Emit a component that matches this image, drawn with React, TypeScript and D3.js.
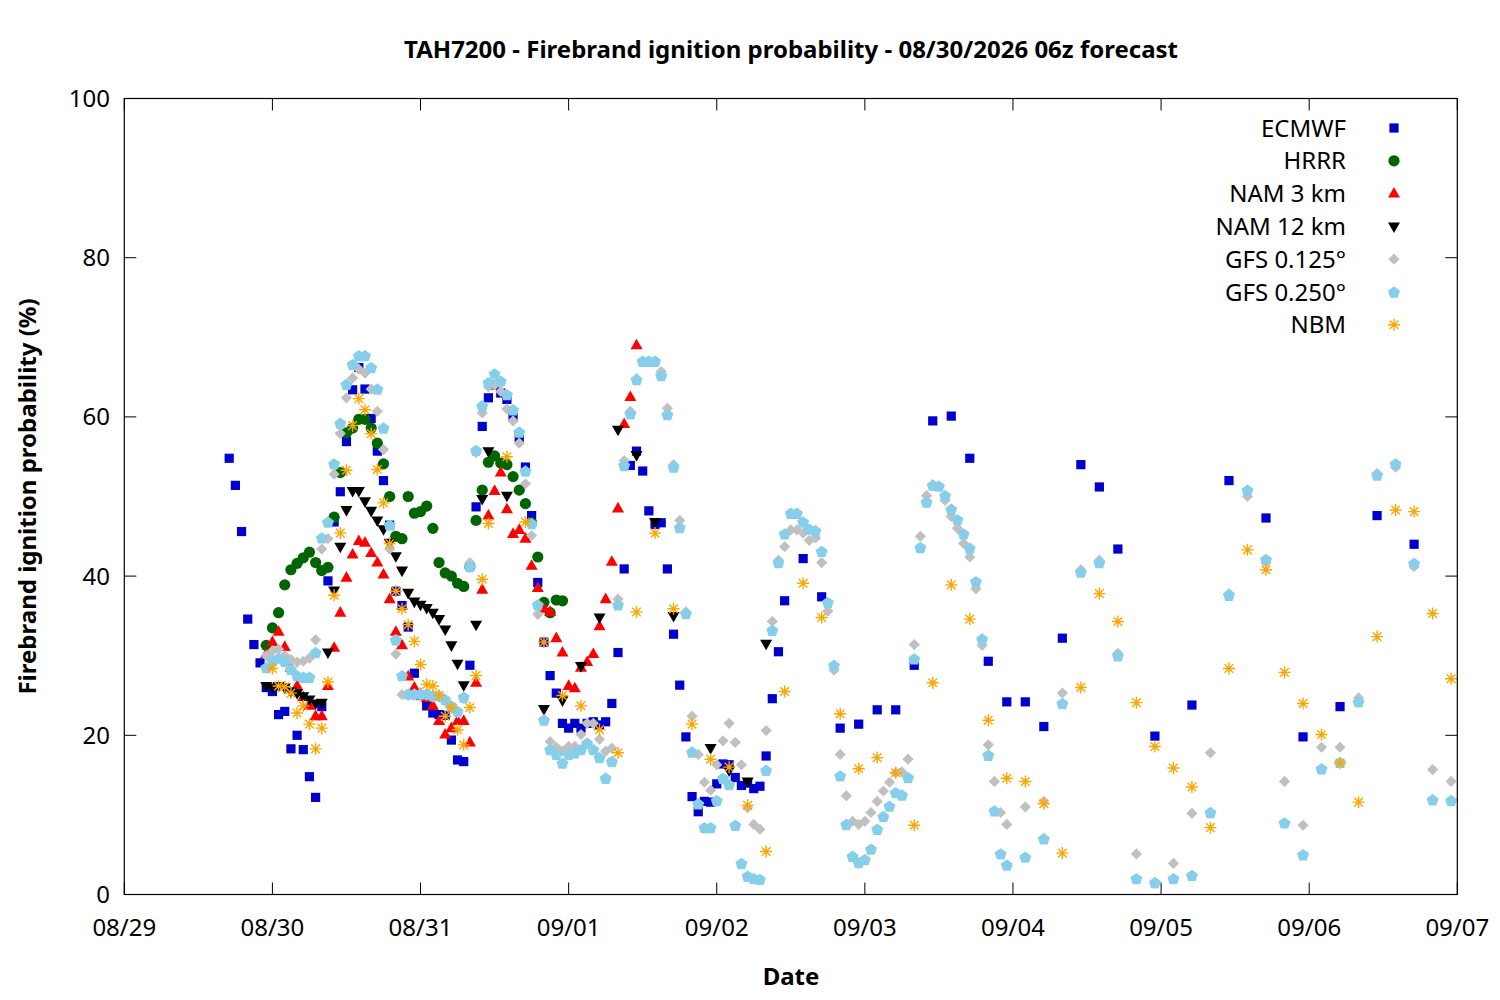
import React from "react";
import * as d3 from "d3";

// ---------- texts ----------
const TITLE = "TAH7200 - Firebrand ignition probability - 08/30/2026 06z forecast";
const X_LABEL = "Date";
const Y_LABEL = "Firebrand ignition probability (%)";
const Y_TICKS = [0, 20, 40, 60, 80, 100];
const X_START = Date.UTC(2026, 7, 29); // 08/29 00z
const X_END = Date.UTC(2026, 8, 7); // 09/07 00z

// ---------- data (hours since 08/29 00z, probability %) ----------
const ecmwfHours = [...d3.range(17, 108), ...d3.range(110, 162, 3), ...d3.range(167, 210, 6)];
const ecmwfValues = [
  54.8, 51.4, 45.6, 34.6, 31.4, 29.1, 26.0, 25.5, 22.6, 23.0, 18.3, 20.0, 18.2, 14.8, 12.2, 23.6,
  39.4, 46.8, 50.6, 56.9, 63.4, 66.2, 63.5, 59.8, 55.7, 52.0, 46.4, 38.1, 36.3, 33.6, 27.8, 25.0,
  23.7, 22.8, 22.6, 22.5, 19.4, 16.9, 16.7, 28.8, 48.7, 58.8, 62.4, 64.0, 63.0, 62.2, 60.0, 57.4,
  53.7, 47.6, 39.2, 31.7, 27.5, 25.3, 21.5, 20.9, 21.5, 20.9, 21.5, 21.7, 21.3, 21.7, 24.0, 30.4,
  40.9, 53.9, 55.7, 53.2, 48.2, 46.5, 46.7, 40.9, 32.7, 26.3, 19.8, 12.3, 10.4, 11.7, 11.6, 13.9,
  16.4, 16.3, 14.7, 13.7, 14.0, 13.3, 13.6, 17.4, 24.6, 30.5, 36.9,
  42.2, 37.4, 20.9, 21.4, 23.2, 23.2, 28.8, 59.5, 60.1, 54.8, 29.3, 24.2, 24.2, 21.1, 32.2, 54.0,
  51.2, 43.4,
  19.9, 23.8, 52.0, 47.3, 19.8, 23.6, 47.6, 44.0,
];

const hrrrHours = d3.range(23, 72);
const hrrrValues = [
  31.3, 33.5, 35.4, 38.9, 40.8, 41.6, 42.3, 43.0, 41.7, 40.7,
  41.1, 47.4, 53.0, 58.0, 58.6, 59.7, 59.7, 58.6, 56.7, 54.1,
  50.0, 45.0, 44.7, 50.0, 47.9, 48.1, 48.8, 46.0, 41.7, 40.4,
  40.0, 39.1, 38.7, 41.2, 47.0, 50.8, 54.3, 55.1, 54.2, 54.0,
  52.5, 50.8, 49.1, 46.7, 42.4, 36.7, 35.4, 37.0, 36.9,
];

const nam3Hours = d3.range(23, 84);
const nam3Values = [
  30.2, 31.7, 33.0, 31.1, 28.5, 26.2, 24.8, 23.7, 22.4, 22.4,
  26.2, 31.0, 35.4, 39.8, 42.7, 44.4, 44.2, 42.9, 41.7, 40.2,
  37.1, 33.0, 31.3, 27.4, 26.0, 25.2, 24.7, 23.7, 21.8, 20.1,
  20.9, 21.8, 21.8, 19.1, 26.6, 38.3, 47.6, 50.7, 53.0, 48.4,
  45.3, 45.8, 44.7, 41.3, 38.5, 35.9, 35.5, 32.2, 30.4, 26.2,
  25.9, 28.5, 29.2, 30.2, 33.7, 37.1, 41.8, 48.5, 59.1, 62.5, 69.0,
];

const nam12Hours = [...d3.range(23, 56), 57, 58, 59, 62, 68, 71, 74, 77, 80, 83, 86, 89, 95, 98, 101, 104];
const nam12Values = [
  26.2, 26.0, 26.2, 26.0, 25.5, 25.3, 24.9, 24.5, 24.0, 24.1,
  30.4, 38.2, 43.7, 48.3, 50.7, 50.7, 49.4, 48.2, 47.0, 45.9,
  44.2, 42.5, 40.7, 37.9, 36.8, 36.4, 36.0, 35.4, 34.6, 33.3,
  31.3, 29.0, 26.3, 33.9, 49.7, 55.7,
  50.1, 23.3, 24.4, 28.7, 34.8, 58.4, 55.2, 46.8, 35.0, 18.4, 15.6, 14.2, 31.5,
];

const gfsHours = [...d3.range(23, 144), ...d3.range(146, 216, 3)];
const gfs125Values = [
  30.0, 30.6, 30.8, 30.0, 29.5, 29.2, 29.3, 29.7, 32.0, 43.4,
  44.7, 52.8, 57.9, 62.4, 64.9, 66.0, 65.5, 63.5, 60.7, 55.9,
  43.4, 30.2, 25.1, 25.0, 25.0, 25.0, 25.0, 24.8, 24.8, 24.3,
  23.5, 22.8, 24.6, 41.7, 55.5, 60.5, 63.8, 64.0, 63.2, 61.0,
  59.5, 56.7, 51.6, 45.1, 35.2, 22.0, 19.2, 18.5, 18.0, 18.6,
  18.6, 20.1, 21.5, 21.5, 19.5, 18.0, 18.4, 37.1, 54.5, 60.7,
  64.8, 67.0, 67.0, 67.0, 65.7, 61.1, 54.0, 47.0, 35.5, 22.4,
  17.6, 14.1, 13.1, 16.3, 19.3, 21.5, 19.1, 16.3, 10.9, 8.8,
  8.2, 20.6, 34.3, 42.0, 43.7, 45.8, 45.8, 45.4, 44.5, 44.8,
  41.7, 35.6, 28.2, 17.6, 12.4, 9.2, 8.8, 9.2, 10.3, 11.7,
  13.0, 14.1, 15.3, 15.4, 17.0, 31.4, 45.0, 50.1, 51.5, 51.3,
  49.5, 47.5, 46.0, 44.1, 42.4, 38.4, 31.3, 18.8, 14.2, 10.3, 8.8,
  11.0, 11.7, 25.3, 40.8, 42.0, 30.3, 5.1, 1.4, 3.9, 10.2, 17.8, 37.8,
  50.0, 41.7, 14.2, 8.7, 18.5, 18.5, 24.7, 52.9, 53.7, 41.2, 15.7, 14.2,
];
const gfs250Values = [
  28.5, 29.4, 29.7, 29.3, 28.3, 27.5, 27.3, 27.3, 30.4, 44.8,
  46.8, 54.1, 59.2, 64.1, 66.6, 67.7, 67.7, 66.2, 63.5, 58.6,
  46.4, 32.0, 27.5, 25.2, 25.2, 25.2, 25.2, 25.0, 25.0, 24.5,
  23.7, 23.0, 24.8, 41.2, 55.8, 61.4, 64.3, 65.4, 64.5, 62.8,
  60.9, 58.1, 53.2, 46.6, 36.4, 21.9, 18.2, 17.6, 16.5, 17.6,
  17.8, 18.2, 19.0, 18.2, 17.2, 14.6, 16.7, 36.4, 53.9, 60.4,
  64.7, 67.0, 67.0, 67.0, 65.2, 60.3, 53.7, 46.1, 35.3, 17.9,
  11.4, 8.4, 8.4, 11.8, 14.6, 13.8, 8.7, 3.9, 2.3, 2.0,
  1.9, 15.6, 33.2, 41.7, 45.3, 47.9, 47.9, 46.8, 45.9, 45.7,
  43.1, 36.7, 28.8, 14.9, 8.8, 4.8, 4.0, 4.4, 5.7, 8.2,
  9.8, 11.1, 12.8, 12.5, 14.7, 29.6, 43.6, 49.3, 51.4, 51.3,
  50.1, 48.4, 47.1, 45.3, 43.5, 39.3, 32.1, 17.5, 10.5, 5.1, 3.7,
  4.7, 7.0, 24.0, 40.5, 41.7, 30.0, 2.0, 1.5, 2.0, 2.4, 10.3, 37.6,
  50.8, 42.1, 9.0, 5.0, 15.8, 16.6, 24.2, 52.7, 54.1, 41.6, 11.9, 11.8,
];

const nbmHours = [...d3.range(24, 60), ...d3.range(62, 216, 3)];
const nbmValues = [
  28.4, 26.2, 26.1, 25.3, 22.8, 23.7, 21.4, 18.3, 20.9, 26.7,
  37.6, 45.4, 53.3, 58.9, 62.3, 60.9, 57.9, 53.4, 49.2, 44.1,
  38.1, 35.9, 33.9, 31.8, 28.9, 26.4, 26.2, 25.0, 22.4, 23.5,
  20.7, 18.8, 23.5, 27.5, 39.6, 46.6,
  55.0, 46.8, 31.7, 25.0, 23.7, 20.7, 17.8, 35.5, 45.4, 35.9,
  21.4, 17.0, 16.0, 11.2, 5.4, 25.5, 39.1, 34.8, 22.7, 15.8,
  17.2, 15.3, 8.7, 26.6, 38.9, 34.6, 21.9, 14.6, 14.2, 11.4,
  5.2, 26.0, 37.8, 34.3, 24.1, 18.6, 15.9, 13.5, 8.4, 28.4,
  43.3, 40.8, 27.9, 24.0, 20.1, 16.5, 11.6, 32.4, 48.3, 48.1,
  35.3, 27.1,
];

const SERIES_NAMES = ["ECMWF", "HRRR", "NAM 3 km", "NAM 12 km", "GFS 0.125°", "GFS 0.250°", "NBM"];

type Shape = "square" | "circle" | "up" | "down" | "diamond" | "pentagon" | "star";
const series: { name: string; hours: number[]; values: number[]; color: string; shape: Shape }[] = [
  { name: SERIES_NAMES[0], hours: ecmwfHours, values: ecmwfValues, color: "#0000cd", shape: "square" },
  { name: SERIES_NAMES[1], hours: hrrrHours, values: hrrrValues, color: "#006400", shape: "circle" },
  { name: SERIES_NAMES[2], hours: nam3Hours, values: nam3Values, color: "#ff0000", shape: "up" },
  { name: SERIES_NAMES[3], hours: nam12Hours, values: nam12Values, color: "#000000", shape: "down" },
  { name: SERIES_NAMES[4], hours: gfsHours, values: gfs125Values, color: "#c0c0c0", shape: "diamond" },
  { name: SERIES_NAMES[5], hours: gfsHours, values: gfs250Values, color: "#87ceeb", shape: "pentagon" },
  { name: SERIES_NAMES[6], hours: nbmHours, values: nbmValues, color: "#ffa500", shape: "star" },
];

// ---------- layout ----------
const W = 1500;
const H = 1000;
const M = { left: 124.3, right: 1457.3, top: 98.5, bottom: 894.5 };
const FONT = "'Noto Sans', 'Open Sans', sans-serif";
const FS = 24;

const pentagonPath = (() => {
  const r = 6.3;
  const pts = d3.range(5).map((i) => {
    const a = -Math.PI / 2 + (i * 2 * Math.PI) / 5;
    return [r * Math.cos(a), r * Math.sin(a) + 0.6];
  });
  return "M" + pts.map((p) => p.join(",")).join("L") + "Z";
})();

function Marker({ shape, color, x, y }: { shape: Shape; color: string; x: number; y: number }) {
  const t = `translate(${x},${y})`;
  switch (shape) {
    case "square":
      return <rect x={x - 4.6} y={y - 4.6} width={9.2} height={9.2} fill={color} />;
    case "circle":
      return <circle cx={x} cy={y} r={5.6} fill={color} />;
    case "up":
      return <path transform={t} d="M0,-6.6L6,4L-6,4Z" fill={color} />;
    case "down":
      return <path transform={t} d="M0,6.6L6,-4L-6,-4Z" fill={color} />;
    case "diamond":
      return <path transform={t} d="M0,-5.6L5.6,0L0,5.6L-5.6,0Z" fill={color} />;
    case "pentagon":
      return <path transform={t} d={pentagonPath} fill={color} />;
    case "star":
      return (
        <path
          transform={t}
          d="M-6,0L6,0M0,-6L0,6M-4.3,-4.3L4.3,4.3M-4.3,4.3L4.3,-4.3"
          stroke={color}
          strokeWidth={1.4}
          fill="none"
        />
      );
  }
  return null;
}

export default function App() {
  const x = d3.scaleUtc().domain([new Date(X_START), new Date(X_END)]).range([M.left, M.right]);
  const y = d3.scaleLinear().domain([0, 100]).range([M.bottom, M.top]);
  const xTicks = x.ticks(d3.utcDay.every(1)!);
  const fmt = d3.utcFormat("%m/%d");
  const hourToDate = (h: number) => new Date(X_START + h * 3600 * 1000);
  const TL = 12;

  return (
    <div style={{ position: "absolute", left: 0, top: 0 }}>
      <svg width={W} height={H} style={{ display: "block", background: "#fff" }} fontFamily={FONT}>
        <rect x={0} y={0} width={W} height={H} fill="#fff" />
        {/* title */}
        <text x={791} y={58} textAnchor="middle" fontSize={FS} fontWeight="bold" fill="#000">
          {TITLE}
        </text>
        {/* ticks */}
        <g stroke="#000" strokeWidth={1}>
          {Y_TICKS.map((t) => (
            <g key={"y" + t}>
              <line x1={M.left} x2={M.left + TL} y1={y(t)} y2={y(t)} />
              <line x1={M.right} x2={M.right - TL} y1={y(t)} y2={y(t)} />
            </g>
          ))}
          {xTicks.map((d) => (
            <g key={"x" + d.getTime()}>
              <line x1={x(d)} x2={x(d)} y1={M.bottom} y2={M.bottom - TL} />
              <line x1={x(d)} x2={x(d)} y1={M.top} y2={M.top + TL} />
            </g>
          ))}
        </g>
        {/* tick labels */}
        <g fontSize={FS} fill="#000">
          {Y_TICKS.map((t) => (
            <text key={"yl" + t} x={110} y={y(t) + 8.5} textAnchor="end">
              {t}
            </text>
          ))}
          {xTicks.map((d) => (
            <text key={"xl" + d.getTime()} x={x(d)} y={936} textAnchor="middle">
              {fmt(d)}
            </text>
          ))}
        </g>
        {/* axis labels */}
        <text x={791} y={985} textAnchor="middle" fontSize={FS} fontWeight="bold">
          {X_LABEL}
        </text>
        <text
          transform={`translate(36,${(M.top + M.bottom) / 2}) rotate(-90)`}
          textAnchor="middle"
          fontSize={FS}
          fontWeight="bold"
        >
          {Y_LABEL}
        </text>
        {/* data */}
        {series.map((s) => (
          <g key={s.name}>
            {s.hours.map((h, i) => (
              <Marker key={i} shape={s.shape} color={s.color} x={x(hourToDate(h))} y={y(s.values[i])} />
            ))}
          </g>
        ))}
        {/* legend */}
        {series.map((s, i) => (
          <g key={"lg" + s.name}>
            <text x={1346} y={128 + i * 32.8 + 8.5} textAnchor="end" fontSize={FS} fill="#000">
              {s.name}
            </text>
            <Marker shape={s.shape} color={s.color} x={1394} y={128 + i * 32.8} />
          </g>
        ))}
        {/* frame */}
        <rect
          x={M.left}
          y={M.top}
          width={M.right - M.left}
          height={M.bottom - M.top}
          fill="none"
          stroke="#000"
          strokeWidth={1.2}
        />
      </svg>
    </div>
  );
}
